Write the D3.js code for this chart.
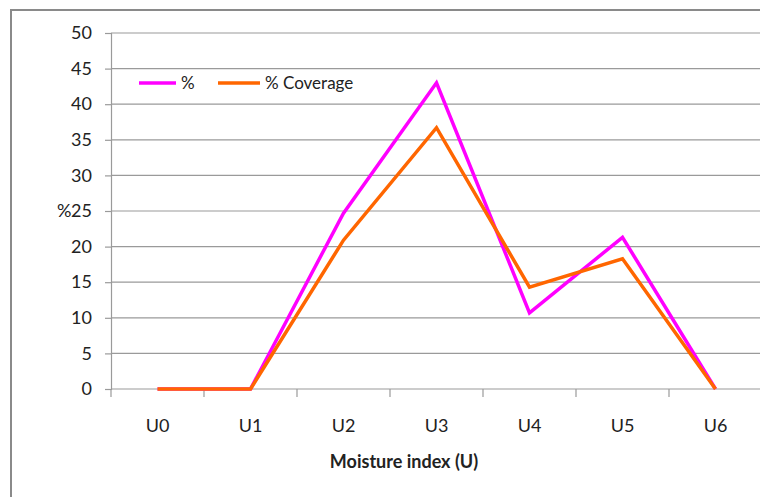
<!DOCTYPE html>
<html>
<head>
<meta charset="utf-8">
<script src="https://cdn.jsdelivr.net/npm/d3@7"></script>
<style>
  html, body { margin: 0; padding: 0; background: #fff; }
  svg { display: block; }
  text { font-family: Lato, "Open Sans", sans-serif; fill: #222; }
</style>
</head>
<body>
<svg id="chart" width="760" height="497"></svg>
<script>
// Moisture index categories and the two series
const categories = ["U0", "U1", "U2", "U3", "U4", "U5", "U6"];
const percentValues = [0, 0, 24.7, 43.0, 10.7, 21.3, 0];
const coverageValues = [0, 0, 20.9, 36.7, 14.3, 18.3, 0];
const yTicks = [0, 5, 10, 15, 20, 25, 30, 35, 40, 45, 50];
const seriesNames = ["%", "% Coverage"];
const seriesColors = ["#ff00ff", "#ff6600"];

const svg = d3.select("#chart");
const margin = { left: 111, right: -2, top: 33, bottom: 108 };
const W = 760, H = 497;
const FONT = "Lato, 'Open Sans', sans-serif";

// outer chart frame
svg.append("rect")
  .attr("x", 11).attr("y", 10)
  .attr("width", 780).attr("height", 520)
  .attr("fill", "none").attr("stroke", "#8a8a8a").attr("stroke-width", 2);

const x = d3.scaleBand()
  .domain(categories)
  .range([margin.left, W - margin.right])
  .paddingInner(0).paddingOuter(0);

const y = d3.scaleLinear()
  .domain([0, 50])
  .range([H - margin.bottom, margin.top]);

// horizontal gridlines
svg.append("g")
  .selectAll("line")
  .data(yTicks.filter(d => d > 0))
  .join("line")
  .attr("x1", margin.left).attr("x2", W - margin.right)
  .attr("y1", d => y(d)).attr("y2", d => y(d))
  .attr("stroke", "#9a9a9a").attr("stroke-width", 1.2);

// y axis
const yAxis = svg.append("g")
  .attr("transform", `translate(${margin.left},0)`)
  .call(d3.axisLeft(y).tickValues(yTicks).tickSize(6).tickPadding(13));
yAxis.select(".domain").attr("stroke", "#9a9a9a").attr("stroke-width", 1.2);
yAxis.selectAll(".tick line").attr("stroke", "#9a9a9a").attr("stroke-width", 1.2);
yAxis.selectAll(".tick text")
  .attr("font-size", 18).attr("fill", "#222")
  .style("font-family", FONT);

// x axis: tick marks on category boundaries
const xAxisG = svg.append("g")
  .attr("transform", `translate(0,${y(0)})`);
xAxisG.append("line")
  .attr("x1", margin.left).attr("x2", W - margin.right)
  .attr("stroke", "#9a9a9a").attr("stroke-width", 1.2);
xAxisG.selectAll("line.tk")
  .data(categories)
  .join("line").attr("class", "tk")
  .attr("x1", d => x(d)).attr("x2", d => x(d))
  .attr("y1", 0).attr("y2", 8)
  .attr("stroke", "#9a9a9a").attr("stroke-width", 1.2);
xAxisG.selectAll("text")
  .data(categories)
  .join("text")
  .attr("x", d => x(d) + x.bandwidth() / 2)
  .attr("y", 43)
  .attr("text-anchor", "middle")
  .attr("font-size", 18)
  .text(d => d);

// axis titles
svg.append("text")
  .attr("x", 404).attr("y", 468)
  .attr("text-anchor", "middle")
  .attr("font-size", 18).attr("font-weight", "bold")
  .attr("fill", "#000")
  .text("Moisture index (U)");

svg.append("text")
  .attr("x", 57).attr("y", y(25) + 6)
  .attr("font-size", 18)
  .text("%");

// series lines
const line = d3.line()
  .x((d, i) => x(categories[i]) + x.bandwidth() / 2)
  .y(d => y(d));

[percentValues, coverageValues].forEach((vals, k) => {
  svg.append("path")
    .datum(vals)
    .attr("d", line)
    .attr("fill", "none")
    .attr("stroke", seriesColors[k])
    .attr("stroke-width", 3.5)
    .attr("stroke-linejoin", "miter");
});

// legend
const legend = svg.append("g");
const legendItems = [
  { x: 139, len: 37 },
  { x: 218, len: 42 }
];
legendItems.forEach((it, k) => {
  legend.append("line")
    .attr("x1", it.x).attr("x2", it.x + it.len)
    .attr("y1", 83).attr("y2", 83)
    .attr("stroke", seriesColors[k]).attr("stroke-width", 3.5);
  legend.append("text")
    .attr("x", it.x + it.len + 5).attr("y", 89)
    .attr("font-size", 17)
    .text(seriesNames[k]);
});
</script>
</body>
</html>
